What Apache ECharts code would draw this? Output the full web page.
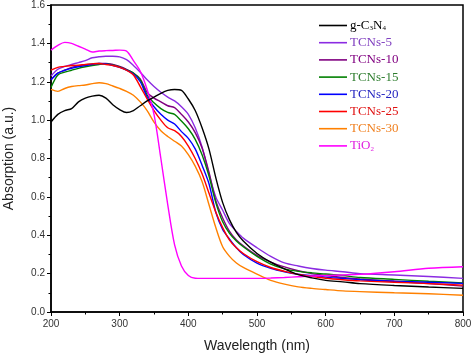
<!DOCTYPE html>
<html>
<head>
<meta charset="utf-8">
<script src="https://cdn.jsdelivr.net/npm/echarts@6/dist/echarts.min.js"></script>
<style>html,body{margin:0;padding:0;background:#fff;}#c{width:474px;height:355px;}</style>
</head>
<body>
<div id="c"></div>
<script>
var wavelengths = [200,210,220,230,240,250,260,270,280,290,300,310,320,330,340,350,360,370,380,390,400,410,420,430,440,450,460,470,480,500,520,540,560,580,600,625,650,700,750,800];
var seriesNames = ['g-C3N4','TCNs-5','TCNs-10','TCNs-15','TCNs-20','TCNs-25','TCNs-30','TiO2'];
var gC3N4 = [0.99,1.03,1.05,1.06,1.095,1.115,1.125,1.13,1.115,1.08,1.055,1.04,1.05,1.075,1.10,1.12,1.14,1.155,1.16,1.155,1.11,1.05,0.96,0.85,0.70,0.57,0.48,0.415,0.37,0.305,0.26,0.225,0.195,0.178,0.165,0.157,0.148,0.138,0.13,0.123];
var tcns5 = [1.23,1.265,1.28,1.29,1.30,1.31,1.325,1.33,1.333,1.333,1.33,1.315,1.285,1.25,1.21,1.175,1.145,1.12,1.10,1.07,1.03,0.96,0.86,0.72,0.60,0.53,0.46,0.42,0.385,0.335,0.29,0.256,0.24,0.227,0.218,0.21,0.20,0.193,0.185,0.175];
var tcns10 = [1.21,1.245,1.26,1.275,1.283,1.288,1.293,1.296,1.296,1.29,1.28,1.265,1.245,1.215,1.145,1.115,1.095,1.075,1.065,1.03,0.99,0.935,0.855,0.73,0.58,0.49,0.42,0.375,0.345,0.295,0.26,0.235,0.215,0.2,0.19,0.18,0.172,0.16,0.148,0.135];
var tcns15 = [1.17,1.235,1.25,1.26,1.27,1.278,1.285,1.29,1.293,1.288,1.278,1.262,1.245,1.21,1.13,1.09,1.06,1.04,1.03,0.995,0.955,0.90,0.82,0.71,0.57,0.47,0.41,0.37,0.34,0.29,0.25,0.225,0.212,0.204,0.198,0.19,0.18,0.17,0.16,0.152];
var tcns20 = [1.21,1.245,1.26,1.27,1.278,1.285,1.29,1.295,1.293,1.285,1.275,1.26,1.24,1.20,1.12,1.07,1.03,1.0,0.98,0.94,0.905,0.85,0.765,0.67,0.52,0.43,0.38,0.335,0.30,0.255,0.228,0.21,0.197,0.19,0.182,0.175,0.168,0.16,0.155,0.149];
var tcns25 = [1.26,1.275,1.28,1.285,1.286,1.29,1.293,1.295,1.29,1.285,1.275,1.26,1.235,1.175,1.11,1.05,1.0,0.96,0.945,0.915,0.865,0.80,0.72,0.62,0.52,0.44,0.375,0.335,0.305,0.262,0.232,0.212,0.196,0.186,0.176,0.168,0.162,0.155,0.148,0.14];
var tcns30 = [1.16,1.15,1.165,1.175,1.18,1.183,1.19,1.195,1.19,1.178,1.165,1.15,1.13,1.095,1.05,0.99,0.945,0.915,0.89,0.865,0.82,0.76,0.68,0.56,0.44,0.34,0.29,0.255,0.232,0.197,0.165,0.145,0.131,0.123,0.117,0.11,0.106,0.1,0.095,0.087];
var tio2 = [1.365,1.39,1.405,1.40,1.385,1.37,1.355,1.36,1.362,1.363,1.365,1.36,1.31,1.255,1.16,1.03,0.80,0.56,0.35,0.24,0.19,0.176,0.175,0.175,0.175,0.175,0.175,0.175,0.175,0.175,0.177,0.18,0.184,0.188,0.19,0.193,0.196,0.21,0.228,0.236];
var xTicks = [200,300,400,500,600,700,800];
var yTicks = [0.0,0.2,0.4,0.6,0.8,1.0,1.2,1.4,1.6];

var allValues = [gC3N4,tcns5,tcns10,tcns15,tcns20,tcns25,tcns30,tio2];
var colors = ['#000000','#8B2BE2','#800080','#008000','#0000FF','#FF0000','#FF8000','#FF00FF'];
var legendTextColors = ['#000000','#8040C0','#800080','#2E7D2E','#1F1FBF','#E01010','#F08020','#E020E0'];

function pairs(vals){ return wavelengths.map(function(w,i){ return [w, vals[i]]; }); }

var chart = echarts.init(document.getElementById('c'), null, {renderer:'canvas'});
var series = seriesNames.map(function(n,i){
  return {
    name: n, type: 'line', data: pairs(allValues[i]), symbol: 'none', smooth: 0.3,
    symbolKeepAspect: true,
    lineStyle: {color: colors[i], width: 1.4}, itemStyle: {color: colors[i]},
    z: i === 0 ? 3 : 2
  };
});
var labelFont = {fontFamily: 'Liberation Sans, Arial', fontSize: 10, color: '#333'};
chart.setOption({
  animation: false,
  backgroundColor: '#fff',
  grid: {left: 51, right: 11, top: 5, bottom: 43, containLabel: false, outerBoundsMode: 'none',
    show: true, borderColor: '#000', borderWidth: 1.5, backgroundColor: 'transparent'},
  legend: {
    orient: 'vertical', left: 314, top: 14, itemWidth: 28, itemHeight: 10, itemGap: 4.2,
    icon: 'path://M0,0L28,0L28,1.6L0,1.6Z',
    data: seriesNames.map(function(n,i){ return {name: n, itemStyle: {color: colors[i]}, textStyle: {color: legendTextColors[i]}}; }),
    formatter: function(n){
      if (n === 'g-C3N4') return 'g-C{s|3}N{s|4}';
      if (n === 'TiO2') return 'TiO{s|2}';
      return n;
    },
    textStyle: {fontFamily: 'Liberation Serif, Times New Roman', fontSize: 13, padding: [0,0,0,-2],
      rich: {s: {fontFamily: 'Liberation Serif', fontSize: 7, verticalAlign: 'bottom', padding: [6,0,0,0]}}}
  },
  xAxis: {
    type: 'value', min: xTicks[0], max: xTicks[xTicks.length-1], interval: 100,
    name: 'Wavelength (nm)', nameLocation: 'middle', nameGap: 27,
    nameTextStyle: {fontFamily: 'Liberation Sans, Arial', fontSize: 14, color: '#222'},
    axisLine: {lineStyle: {color: '#000', width: 1.5}},
    axisTick: {show: true, inside: false, length: 4, lineStyle: {color: '#000'}},
    minorTick: {show: true, splitNumber: 2, length: 2.5, lineStyle: {color: '#000'}},
    splitLine: {show: false},
    axisLabel: Object.assign({margin: 7}, labelFont)
  },
  yAxis: {
    type: 'value', min: 0, max: 1.6, interval: 0.2,
    name: 'Absorption (a.u.)', nameLocation: 'middle', nameGap: 35,
    nameTextStyle: {fontFamily: 'Liberation Sans, Arial', fontSize: 14, color: '#222'},
    axisLine: {show: true, lineStyle: {color: '#000', width: 1.5}},
    axisTick: {show: true, inside: false, length: 4, lineStyle: {color: '#000'}},
    minorTick: {show: true, splitNumber: 2, length: 2.5, lineStyle: {color: '#000'}},
    splitLine: {show: false},
    axisLabel: Object.assign({margin: 6, formatter: function(v){ return v.toFixed(1); }}, labelFont)
  },
  series: series
});
</script>
</body>
</html>
